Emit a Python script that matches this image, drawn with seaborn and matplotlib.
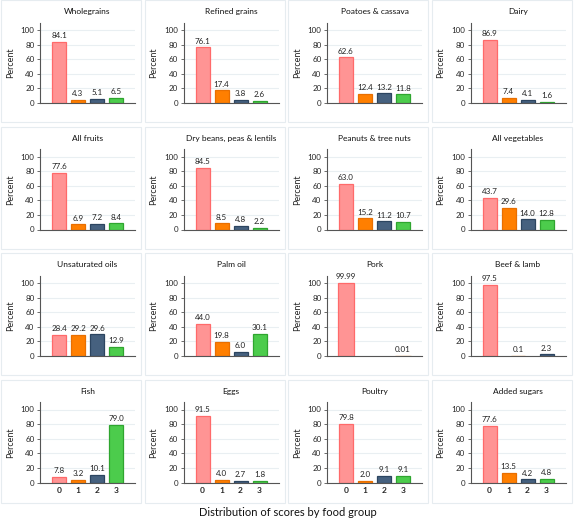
import numpy as np
import pandas as pd
import seaborn as sns
import matplotlib.pyplot as plt
from matplotlib.patches import Rectangle

# ================================================================ DATA ================================================================

groups = ["Wholegrains", "Refined grains", "Poatoes & cassava", "Dairy",
          "All fruits", "Dry beans, peas & lentils", "Peanuts & tree nuts", "All vegetables",
          "Unsaturated oils", "Palm oil", "Pork", "Beef & lamb",
          "Fish", "Eggs", "Poultry", "Added sugars"]

scores = ["0", "1", "2", "3"]

wholegrains     = [84.1, 4.3, 5.1, 6.5]
refined_grains  = [76.1, 17.4, 3.8, 2.6]
potatoes        = [62.6, 12.4, 13.2, 11.8]
dairy           = [86.9, 7.4, 4.1, 1.6]
all_fruits      = [77.6, 6.9, 7.2, 8.4]
dry_beans       = [84.5, 8.5, 4.8, 2.2]
nuts            = [63.0, 15.2, 11.2, 10.7]
all_vegetables  = [43.7, 29.6, 14.0, 12.8]
unsat_oils      = [28.4, 29.2, 29.6, 12.9]
palm_oil        = [44.0, 19.8, 6.0, 30.1]
pork            = [99.99, 0.01]
beef_lamb       = [97.5, 0.1, 2.3]
fish            = [7.8, 3.2, 10.1, 79.0]
eggs            = [91.5, 4.0, 2.7, 1.8]
poultry         = [79.8, 2.0, 9.1, 9.1]
added_sugars    = [77.6, 13.5, 4.2, 4.8]

values = [wholegrains, refined_grains, potatoes, dairy,
          all_fruits, dry_beans, nuts, all_vegetables,
          unsat_oils, palm_oil, pork, beef_lamb,
          fish, eggs, poultry, added_sugars]

# ================================================================ STYLE ================================================================

FILL_COLORS = ["#ff9494", "#ff7f00", "#46617f", "#4ccc4c"]
EDGE_COLORS = ["#ff6a6a", "#e86f00", "#2c4560", "#2fa52f"]

sns.set_theme(style="white")
plt.rcParams['font.family'] = ['Lato', 'DejaVu Sans']

W, H = 575, 522
fig = plt.figure(figsize=(W / 100, H / 100), dpi=100)

col_x = [0, 143.5, 287, 430.5]
row_y = [0, 126.5, 253, 379.5]

for idx, (name, vals) in enumerate(zip(groups, values)):
    r, c = divmod(idx, 4)
    px, py = col_x[c], row_y[r]
    box_h = 122 if r < 3 else 123
    # panel frame
    fig.patches.append(Rectangle((px / W + 0.002, 1 - (py + box_h) / H), 140 / W, box_h / H,
                                 transform=fig.transFigure, fill=False,
                                 edgecolor="#e6ecf0", linewidth=0.8))
    # axes: y=0 at py+103, y=100 at py+30
    ax_left = px + 40
    ax_w = 95
    ax_bottom = py + 103
    px_per_unit = 73 / 100
    ax_top = ax_bottom - 110 * px_per_unit
    ax = fig.add_axes([ax_left / W, 1 - ax_bottom / H, ax_w / W, (ax_bottom - ax_top) / H])

    n = len(vals)
    cats = scores[:n]
    df = pd.DataFrame({"Score": cats, "Percent": vals})
    spacing = 57 / (n - 1)
    bar_w = 14 / spacing if n > 2 else 16 / spacing
    sns.barplot(data=df, x="Score", y="Percent", hue="Score", order=cats, hue_order=cats,
                palette=FILL_COLORS[:n], width=bar_w, dodge=False, legend=False, ax=ax,
                linewidth=0.9, saturation=1)
    for p, ec in zip(ax.patches, EDGE_COLORS):
        p.set_edgecolor(ec)

    margin = 19 / spacing
    ax.set_xlim(-margin, n - 1 + margin)
    ax.set_ylim(0, 110)
    ax.set_yticks([0, 20, 40, 60, 80, 100])
    ax.yaxis.grid(True, color="#e9eff2", linewidth=0.8)
    ax.set_axisbelow(True)

    fmt = "%.2f" if name == "Pork" else "%.1f"
    for container in ax.containers:
        ax.bar_label(container, fmt=fmt, fontsize=5.8, padding=2, color="#222222")

    for s in ["top", "right"]:
        ax.spines[s].set_visible(False)
    for s in ["left", "bottom"]:
        ax.spines[s].set_color("#555555")
        ax.spines[s].set_linewidth(0.8)
    ax.tick_params(axis="y", labelsize=5.8, length=2.5, width=0.6, color="#555555", pad=1.5, left=True)
    ax.set_ylabel("Percent", fontsize=6.5, labelpad=4)
    ax.set_xlabel("")
    if r == 3:
        ax.tick_params(axis="x", labelsize=6, length=0, pad=3)
        for t in ax.get_xticklabels():
            t.set_fontweight("bold")
    else:
        ax.set_xticklabels([])
        ax.tick_params(axis="x", length=0)
    ax.set_title(name, fontsize=6, pad=6, color="#111111")

fig.text(0.5, 1 - 512 / H, "Distribution of scores by food group", ha="center", va="center",
         fontsize=8, color="#111111")

plt.savefig("out.png", dpi=100)
